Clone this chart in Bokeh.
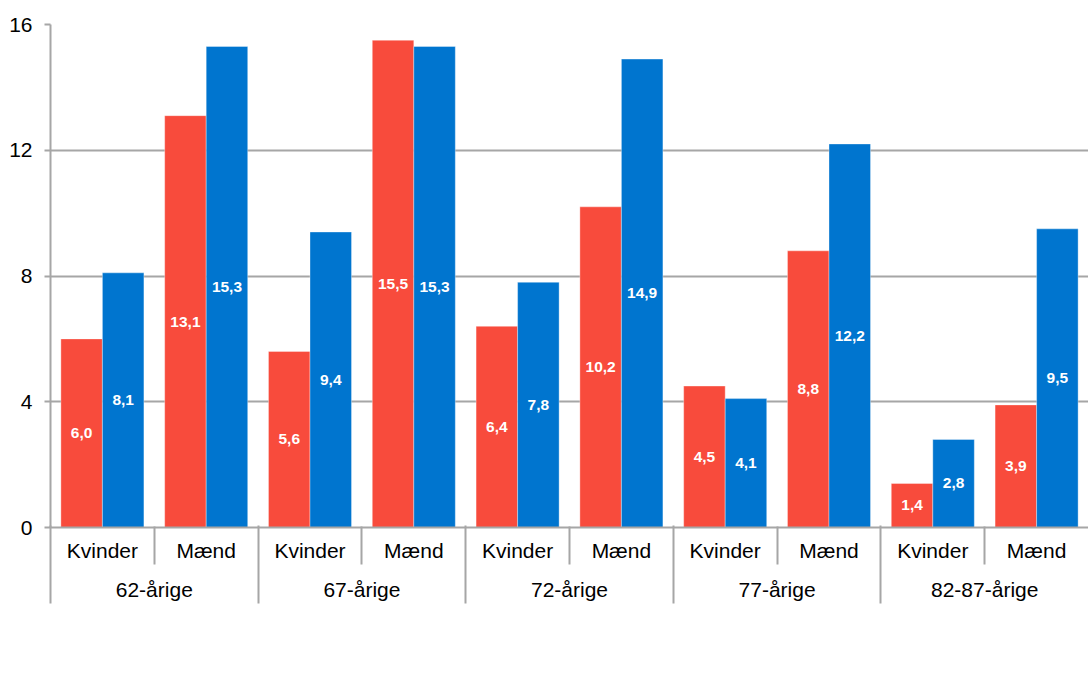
from bokeh.plotting import figure
from bokeh.models import (ColumnDataSource, FactorRange, Range1d, FixedTicker,
                          LinearAxis, CategoricalAxis, Legend, LegendItem)
from bokeh.transform import dodge
from bokeh.embed import file_html
from bokeh.resources import INLINE

groups = ["62-årige", "67-årige", "72-årige", "77-årige", "82-87-årige"]
genders = ["Kvinder", "Mænd"]
years = ["2012", "2017"]
values_2012 = [6.0, 13.1, 5.6, 15.5, 6.4, 10.2, 4.5, 8.8, 1.4, 3.9]
values_2017 = [8.1, 15.3, 9.4, 15.3, 7.8, 14.9, 4.1, 12.2, 2.8, 9.5]
y_ticks = [0, 4, 8, 12, 16]

RED = "#F84B3C"
BLUE = "#0075CF"
GRAY = "#A6A6A6"
FONT = "Liberation Sans"
FS = "21px"

factors = [(g, s) for g in groups for s in genders]


def fmt(v):
    return f"{v:.1f}".replace(".", ",")


src = ColumnDataSource(dict(
    x=factors,
    v12=values_2012,
    v17=values_2017,
    m12=[v / 2 for v in values_2012],
    m17=[v / 2 for v in values_2017],
    l12=[fmt(v) for v in values_2012],
    l17=[fmt(v) for v in values_2017],
))

x_range = FactorRange(factors=factors, factor_padding=0, group_padding=0,
                      subgroup_padding=0, range_padding=0)

p = figure(width=1088, height=677, frame_height=503, x_range=x_range,
           y_range=Range1d(0, 16),
           output_backend="svg", toolbar_location=None,
           min_border_left=50, min_border_right=0, min_border_top=24,
           min_border_bottom=0)
p.outline_line_color = None
p.background_fill_color = "white"
p.border_fill_color = "white"

r12 = p.vbar(x=dodge("x", -0.2, range=p.x_range), top="v12", width=0.4,
             source=src, fill_color=RED, line_color="white", line_alpha=0.35,
             line_width=1)
r17 = p.vbar(x=dodge("x", 0.2, range=p.x_range), top="v17", width=0.4,
             source=src, fill_color=BLUE, line_color="white", line_alpha=0.35,
             line_width=1)

p.text(x=dodge("x", -0.2, range=p.x_range), y="m12", text="l12", source=src,
       text_color="white", text_font={"value": FONT}, text_font_style="bold",
       text_font_size="15.5px", text_align="center", text_baseline="middle")
p.text(x=dodge("x", 0.2, range=p.x_range), y="m17", text="l17", source=src,
       text_color="white", text_font={"value": FONT}, text_font_style="bold",
       text_font_size="15.5px", text_align="center", text_baseline="middle")

# y axis
yax = p.yaxis[0]
yax.ticker = FixedTicker(ticks=y_ticks)
yax.major_label_text_font = FONT
yax.major_label_text_font_size = FS
yax.major_label_text_color = "black"
yax.major_label_standoff = 12
yax.major_tick_out = 6
yax.major_tick_in = 0
yax.minor_tick_line_color = None
yax.axis_line_color = GRAY
yax.axis_line_width = 2
yax.major_tick_line_color = GRAY
yax.major_tick_line_width = 2

p.ygrid.ticker = FixedTicker(ticks=y_ticks)
p.ygrid.grid_line_color = GRAY
p.ygrid.grid_line_width = 2
p.xgrid.grid_line_color = None


def cat_axis(ax, show_leaf, standoff):
    ax.major_label_text_font = FONT
    ax.major_label_text_font_size = FS
    ax.major_label_text_color = "black" if show_leaf else None
    ax.group_text_font = FONT
    ax.group_text_font_size = FS
    ax.group_text_font_style = "normal"
    ax.group_text_color = None if show_leaf else "black"
    ax.separator_line_color = None
    ax.major_tick_line_color = None
    ax.minor_tick_line_color = None
    ax.major_tick_out = 0
    ax.major_tick_in = 0
    ax.major_label_standoff = standoff
    ax.axis_line_color = GRAY if show_leaf else None
    ax.axis_line_width = 2
    return ax


# gender labels (first level) and age-group labels (second level)
ax_gender = cat_axis(p.xaxis[0], True, 11)
ax_group = cat_axis(CategoricalAxis(), False, 13)


# separator marks at category boundaries (synthetic coordinates of the factor range)
def sep_axis(minor, reach, spacer=0):
    ax = LinearAxis(ticker=FixedTicker(ticks=[], minor_ticks=minor))
    ax.major_tick_out = spacer
    ax.major_tick_in = 0
    ax.major_tick_line_color = None
    ax.minor_tick_out = 0
    ax.minor_tick_in = reach
    ax.minor_tick_line_color = GRAY
    ax.minor_tick_line_width = 2
    ax.axis_line_color = None
    ax.major_label_text_color = None
    ax.major_label_text_font_size = "0px"
    ax.major_label_standoff = 0
    return ax


sep_inner = sep_axis([1, 3, 5, 7, 9], 38)
sep_outer = sep_axis([0, 2, 4, 6, 8], 78, spacer=45)

legend = Legend(items=[LegendItem(label=years[0], renderers=[r12]),
                       LegendItem(label=years[1], renderers=[r17])],
                orientation="horizontal", location="top_center")
legend.label_text_font = FONT
legend.label_text_font_size = FS
legend.label_text_color = "black"
legend.glyph_width = 11
legend.glyph_height = 11
legend.label_standoff = 2
legend.spacing = 15
legend.padding = 0
legend.margin = 0
legend.border_line_color = None
legend.background_fill_alpha = 0

p.below = [ax_gender, sep_inner, ax_group, sep_outer, legend]

open("out.html", "w").write(file_html(p, INLINE))
